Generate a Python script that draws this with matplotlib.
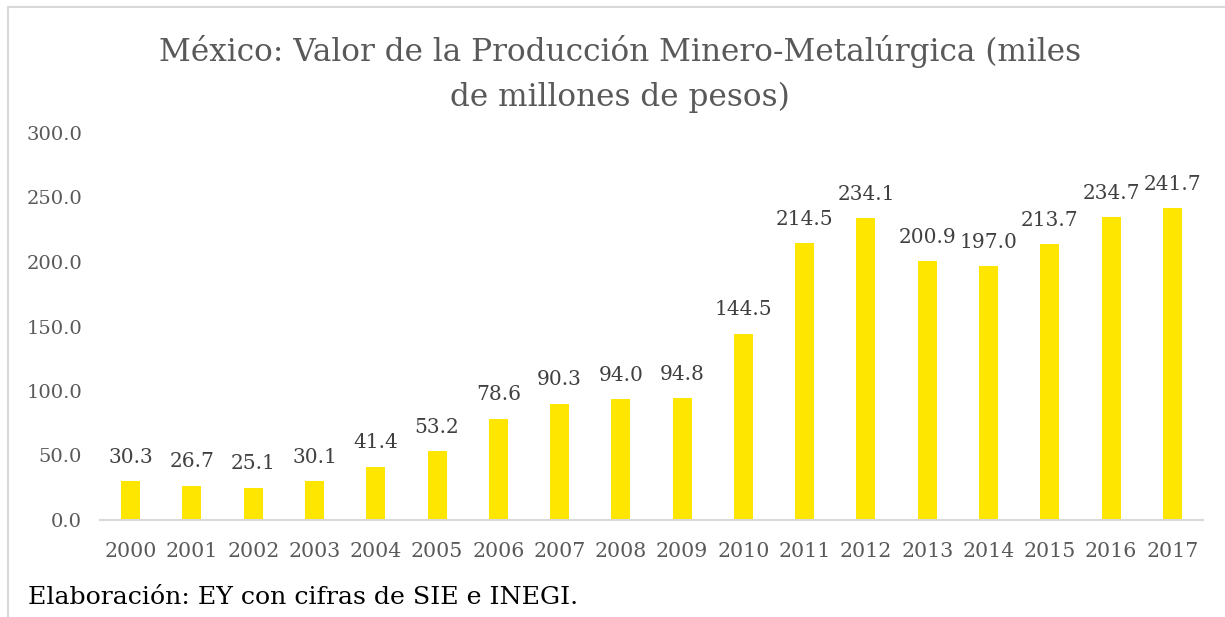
import matplotlib.pyplot as plt
from matplotlib.lines import Line2D

years = ["2000", "2001", "2002", "2003", "2004", "2005", "2006", "2007", "2008",
         "2009", "2010", "2011", "2012", "2013", "2014", "2015", "2016", "2017"]
values = [30.3, 26.7, 25.1, 30.1, 41.4, 53.2, 78.6, 90.3, 94.0,
          94.8, 144.5, 214.5, 234.1, 200.9, 197.0, 213.7, 234.7, 241.7]
yticks = [0, 50, 100, 150, 200, 250, 300]

plt.rcParams['font.family'] = ['DejaVu Serif']

fig = plt.figure(figsize=(12.25, 6.17), dpi=100)
ax = fig.add_axes([100/1225, 97/617, 1103/1225, 387/617])

x = range(len(years))
bars = ax.bar(x, values, width=0.31, color="#FFE600")

for xi, v in zip(x, values):
    ax.text(xi, v + 11, "%.1f" % v, ha="center", va="bottom", fontsize=14.5, color="#404040")

ax.set_xlim(-0.5, len(years) - 0.5)
ax.set_ylim(0, 300)
ax.set_yticks(yticks)
ax.set_yticklabels(["%.1f" % t for t in yticks], fontsize=14, color="#595959")
ax.set_xticks(list(x))
ax.set_xticklabels(years, fontsize=14.8, color="#595959")
ax.tick_params(length=0)
ax.tick_params(axis="y", pad=13)
ax.tick_params(axis="x", pad=16)

for s in ["top", "right", "left"]:
    ax.spines[s].set_visible(False)
ax.spines["bottom"].set_color("#D9D9D9")
ax.spines["bottom"].set_linewidth(1.5)

fig.text(620/1225, 1 - 74/617, "México: Valor de la Producción Minero-Metalúrgica (miles\nde millones de pesos)",
         ha="center", va="center", fontsize=22.4, color="#595959", linespacing=1.55)

fig.text(28/1225, 1 - 598/617, "Elaboración: EY con cifras de SIE e INEGI.",
         ha="left", va="center", fontsize=18.2, color="black")

# chart frame (top and left edges)
fig.add_artist(Line2D([8/1225, 1], [1 - 7/617, 1 - 7/617], transform=fig.transFigure, color="#D9D9D9", lw=1.5))
fig.add_artist(Line2D([8/1225, 8/1225], [0, 1 - 7/617], transform=fig.transFigure, color="#D9D9D9", lw=1.5))

fig.savefig("out.png", dpi=100)
